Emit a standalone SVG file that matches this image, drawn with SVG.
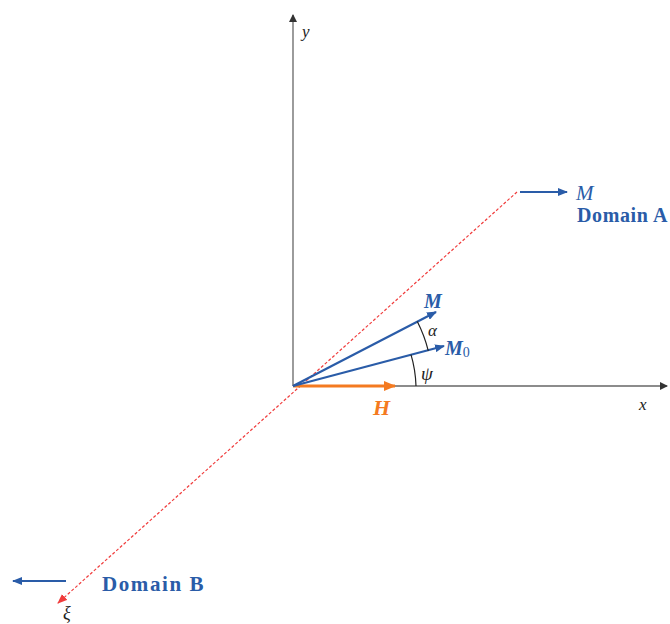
<svg xmlns="http://www.w3.org/2000/svg" width="670" height="624" viewBox="0 0 670 624">
<defs>
<marker id="ahGray" markerWidth="8" markerHeight="8" refX="7" refY="4" orient="auto" markerUnits="userSpaceOnUse"><path d="M0,0 L8,4 L0,8 Z" fill="#333"/></marker>
<marker id="ahBlue" markerWidth="10" markerHeight="8" refX="9" refY="4" orient="auto" markerUnits="userSpaceOnUse"><path d="M0,0 L10,4 L0,8 Z" fill="#2a5ca8"/></marker>
<marker id="ahOrange" markerWidth="12" markerHeight="10" refX="11" refY="5" orient="auto" markerUnits="userSpaceOnUse"><path d="M0,0 L12,5 L0,10 Z" fill="#f47a20"/></marker>
<marker id="ahRed" markerWidth="10" markerHeight="8" refX="9" refY="4" orient="auto" markerUnits="userSpaceOnUse"><path d="M0,0 L10,4 L0,8 Z" fill="#f03c3c"/></marker>
</defs>
<style>
.axis{stroke:#666;stroke-width:1.3;fill:none}
.blue{stroke:#2a5ca8;stroke-width:2.2;fill:none}
.arc{stroke:#222;stroke-width:1.2;fill:none}
.it{font-family:"Liberation Serif",serif;font-style:italic}
.lbl{font-family:"Liberation Serif",serif;font-weight:bold;fill:#2a5ca8}
</style>
<rect width="670" height="624" fill="#fff"/>
<g id="connectors">
<line class="axis" x1="293" y1="386" x2="293" y2="15" marker-end="url(#ahGray)"/>
<line class="axis" x1="293" y1="386" x2="667" y2="386" marker-end="url(#ahGray)"/>
<line x1="517" y1="192" x2="58" y2="603" stroke="#f03c3c" stroke-width="1.2" stroke-dasharray="3,2" marker-end="url(#ahRed)"/>
<line x1="293" y1="386" x2="395" y2="386" stroke="#f47a20" stroke-width="3" marker-end="url(#ahOrange)"/>
<line class="blue" x1="293" y1="386" x2="436" y2="312" marker-end="url(#ahBlue)"/>
<line class="blue" x1="293" y1="386" x2="444" y2="346" marker-end="url(#ahBlue)"/>
<path class="arc" d="M417.3,321.6 A140,140 0 0 1 428.3,350.9"/>
<path class="arc" d="M411,354.6 A123,123 0 0 1 416,386"/>
<line class="blue" x1="520" y1="192" x2="567" y2="192" marker-end="url(#ahBlue)"/>
<line class="blue" x1="66" y1="581" x2="13" y2="581" marker-end="url(#ahBlue)"/>
</g>
<g id="labels">
<text class="it" x="302" y="37" font-size="17" fill="#222">y</text>
<text class="it" x="639" y="410" font-size="17" fill="#222">x</text>
<text class="it" x="63" y="619" font-size="18" fill="#222">ξ</text>
<text class="it" x="424" y="308" font-size="20" font-weight="bold" fill="#2a5ca8">M</text>
<text class="it" x="445" y="355" font-size="20" font-weight="bold" fill="#2a5ca8">M<tspan font-style="normal" font-weight="normal" font-size="14" dy="2">0</tspan></text>
<text class="it" x="428" y="336" font-size="17" fill="#222">α</text>
<text class="it" x="421" y="380" font-size="19" fill="#222">ψ</text>
<text class="it" x="373" y="415" font-size="22" font-weight="bold" fill="#f47a20">H</text>
<text class="it" x="576" y="200" font-size="21" fill="#2a5ca8">M</text>
<text class="lbl" x="577" y="222" font-size="20" letter-spacing="0.6">Domain A</text>
<text class="lbl" x="102" y="591" font-size="21" letter-spacing="1.6">Domain B</text>
</g>
</svg>
